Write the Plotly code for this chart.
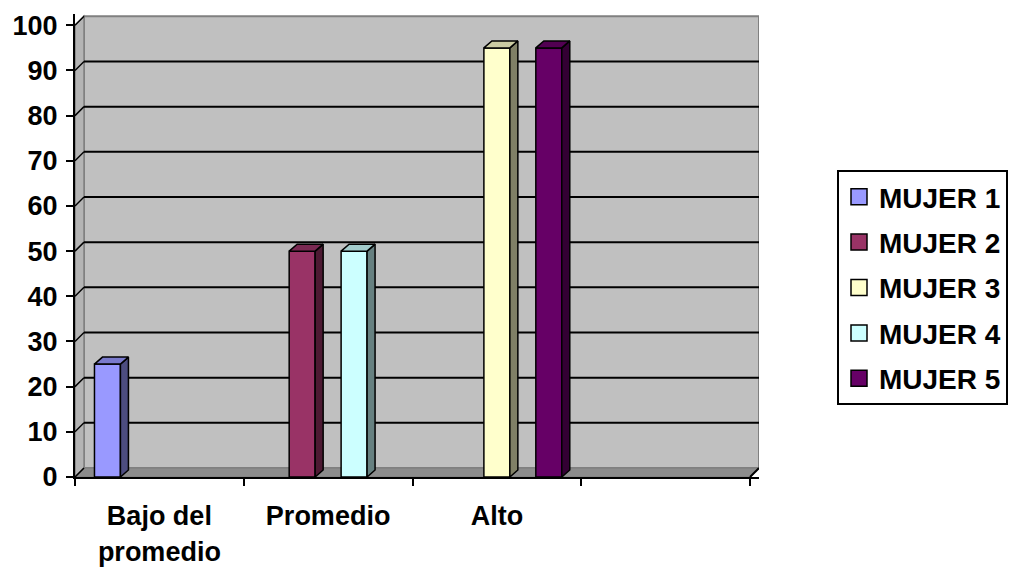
import plotly.graph_objects as go

# ---- data ----
categories = ["Bajo del<br>promedio", "Promedio", "Alto", ""]
series_names = ["MUJER 1", "MUJER 2", "MUJER 3", "MUJER 4", "MUJER 5"]
mujer1 = [25, None, None, None]
mujer2 = [None, 50, None, None]
mujer3 = [None, None, 95, None]
mujer4 = [None, 50, None, None]
mujer5 = [None, None, 95, None]
series_values = [mujer1, mujer2, mujer3, mujer4, mujer5]
y_ticks = list(range(0, 101, 10))

# ---- style ----
front_colors = ["#9999FF", "#993366", "#FFFFCC", "#CCFFFF", "#660066"]
top_colors = ["#7A7ACC", "#7A2952", "#CCCCA3", "#A3CCCC", "#520052"]
side_colors = ["#4D4D80", "#4D1A33", "#808066", "#668080", "#330033"]
FAMILY = "Liberation Sans, Arial, sans-serif"
FONT = dict(family=FAMILY, size=27, color="black", weight="bold")
LEG_FONT = dict(family=FAMILY, size=28, color="black", weight="bold")

n_cat = len(categories)
n_ser = len(series_names)
gap = 0.2308
bw = (1 - gap) / n_ser
px_per_cat = 168.75
px_per_unit = 4.517
wall_dx = 9 / px_per_cat
wall_dy = 9 / px_per_unit
bar_dx = 8 / px_per_cat
bar_dy = 7 / px_per_unit

x_lo = -0.5
x_hi = n_cat - 0.5
y_top = 102.5

fig = go.Figure()

# front faces
for i, (name, vals) in enumerate(zip(series_names, series_values)):
    fig.add_trace(go.Bar(
        x=list(range(n_cat)), y=vals, name=name,
        width=bw, offset=-(1 - gap) / 2 + i * bw,
        marker=dict(color=front_colors[i], line=dict(color="black", width=1.5)),
        showlegend=False, hoverinfo="skip"))

# 3D side/top faces computed from the data
for i, vals in enumerate(series_values):
    for j, v in enumerate(vals):
        if v is None:
            continue
        xl = j - (1 - gap) / 2 + i * bw
        xr = xl + bw
        fig.add_trace(go.Scatter(
            x=[xr, xr + bar_dx, xr + bar_dx, xr, xr],
            y=[0, bar_dy, v + bar_dy, v, 0],
            mode="lines", fill="toself", fillcolor=side_colors[i],
            line=dict(color="black", width=1.5),
            showlegend=False, hoverinfo="skip"))
        fig.add_trace(go.Scatter(
            x=[xl, xl + bar_dx, xr + bar_dx, xr, xl],
            y=[v, v + bar_dy, v + bar_dy, v, v],
            mode="lines", fill="toself", fillcolor=top_colors[i],
            line=dict(color="black", width=1.5),
            showlegend=False, hoverinfo="skip"))

# legend entries
for i, name in enumerate(series_names):
    fig.add_trace(go.Scatter(
        x=[None], y=[None], mode="markers", name=name, legendgroup=name,
        marker=dict(symbol="square", size=16, color=front_colors[i],
                    line=dict(color="black", width=1.5))))

shapes = []
# back wall
shapes.append(dict(type="rect", xref="x", yref="y", layer="below",
                   x0=x_lo + wall_dx, x1=x_hi + wall_dx, y0=wall_dy, y1=100 + wall_dy,
                   fillcolor="#C0C0C0", line=dict(color="#808080", width=2)))
# left wall
shapes.append(dict(type="path", xref="x", yref="y", layer="below",
                   path=f"M{x_lo},0 L{x_lo + wall_dx},{wall_dy} L{x_lo + wall_dx},{100 + wall_dy} L{x_lo},100 Z",
                   fillcolor="#B4B4B4", line=dict(color="#808080", width=1.5)))
# floor
shapes.append(dict(type="path", xref="x", yref="y", layer="below",
                   path=f"M{x_lo},0 L{x_hi},0 L{x_hi + wall_dx},{wall_dy} L{x_lo + wall_dx},{wall_dy} Z",
                   fillcolor="#8C8C8C", line=dict(color="#808080", width=1.5)))
# floor right edge (axis continuation)
shapes.append(dict(type="line", xref="x", yref="y", layer="below",
                   x0=x_hi, y0=0, x1=x_hi + wall_dx, y1=wall_dy,
                   line=dict(color="black", width=2)))
# gridlines on back wall + left wall diagonals
for t in y_ticks:
    if 0 < t < 100:
        shapes.append(dict(type="line", xref="x", yref="y", layer="below",
                           x0=x_lo + wall_dx, x1=x_hi + wall_dx, y0=t + wall_dy, y1=t + wall_dy,
                           line=dict(color="black", width=2)))
    shapes.append(dict(type="line", xref="x", yref="y", layer="below",
                       x0=x_lo, x1=x_lo + wall_dx, y0=t, y1=t + wall_dy,
                       line=dict(color="black", width=1.5)))

x_range = [x_lo, x_hi + wall_dx]
plot_w = (x_range[1] - x_range[0]) * px_per_cat
plot_h = y_top * px_per_unit

fig.update_layout(
    width=1021, height=569,
    margin=dict(l=75, r=1021 - 75 - plot_w, t=569 - 92 - plot_h, b=92, autoexpand=False),
    paper_bgcolor="white", plot_bgcolor="rgba(0,0,0,0)",
    shapes=shapes,
    font=FONT,
    barmode="overlay",
    showlegend=True,
    legend=dict(x=(837 - 75) / plot_w, y=(477 - 170) / plot_h, xanchor="left", yanchor="top",
                bgcolor="white", bordercolor="black", borderwidth=2,
                font=LEG_FONT, tracegroupgap=6, itemsizing="trace"),
    xaxis=dict(range=x_range, tickmode="array", tickvals=list(range(n_cat)), ticktext=categories,
               ticks="", showgrid=False, zeroline=False, showline=True, linecolor="black", linewidth=2,
               tickfont=FONT, ticklabelstandoff=14, automargin=False,
               minor=dict(tickmode="array", tickvals=[k - 0.5 for k in range(n_cat + 1)],
                          ticks="outside", ticklen=7, tickcolor="black", tickwidth=2, showgrid=False)),
    yaxis=dict(range=[0, y_top], tickmode="array", tickvals=y_ticks, ticks="outside", ticklen=7,
               tickwidth=2, tickcolor="black", showgrid=False, zeroline=False, showline=True,
               linecolor="black", linewidth=2, tickfont=FONT, ticklabelstandoff=3, automargin=False),
)

fig.write_html("out.html")
